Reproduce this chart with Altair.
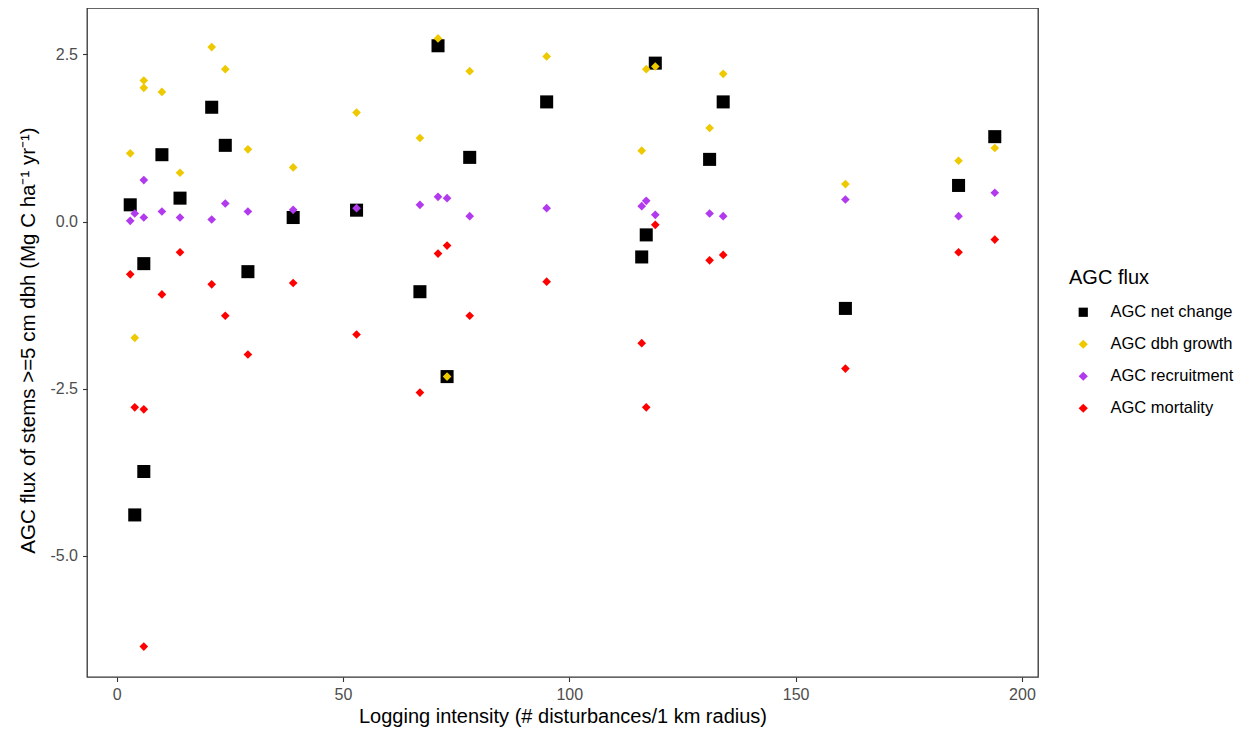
import altair as alt
import pandas as pd

# Logging intensity per site (# disturbances / 1 km radius)
logging = [3, 4, 6, 6, 10, 14, 21, 24, 29, 39, 53, 67, 71, 73, 78, 95,
           116, 117, 119, 131, 134, 161, 186, 194]

# AGC fluxes (Mg C ha-1 yr-1), one value per site
net_change = [0.25, -4.39, -0.63, -3.74, 1.00, 0.35, 1.71, 1.14, -0.75, 0.06, 0.17, -1.05,
              2.63, -2.32, 0.96, 1.79, -0.53, -0.20, 2.37, 0.93, 1.79, -1.30, 0.54, 1.27]
dbh_growth = [1.02, -1.74, 2.11, 2.00, 1.94, 0.73, 2.61, 2.28, 1.08, 0.81, 1.63, 1.25,
              2.74, -2.32, 2.25, 2.47, 1.06, 2.28, 2.32, 1.40, 2.21, 0.56, 0.91, 1.10]
recruitment = [0.01, 0.12, 0.06, 0.62, 0.15, 0.06, 0.03, 0.27, 0.15, 0.175, 0.20, 0.25,
               0.37, 0.35, 0.08, 0.20, 0.23, 0.31, 0.10, 0.12, 0.08, 0.33, 0.08, 0.43]
mortality = [-0.79, -2.78, -2.81, -6.36, -1.09, -0.46, -0.94, -1.41, -1.99, -0.92, -1.69, -2.56,
             -0.48, -0.36, -1.41, -0.90, -1.82, -2.78, -0.05, -0.58, -0.50, -2.20, -0.46, -0.27]

series_names = ["AGC net change", "AGC dbh growth", "AGC recruitment", "AGC mortality"]
series_colors = ["#000000", "#EEC900", "#B23AEE", "#FF0000"]
series_shapes = ["square", "diamond", "diamond", "diamond"]

rows = []
for name, vals in zip(series_names, [net_change, dbh_growth, recruitment, mortality]):
    for x, v in zip(logging, vals):
        rows.append({"logging": x, "flux": v, "series": name})
df = pd.DataFrame(rows)

x_enc = alt.X("logging:Q", scale=alt.Scale(domain=[-6.55, 203.55], nice=False, zero=False),
              axis=alt.Axis(values=[0, 50, 100, 150, 200], title="Logging intensity (# disturbances/1 km radius)",
                            titleX=475.5, titleY=39, titleBaseline="middle", titleAlign="center"))
y_enc = alt.Y("flux:Q", scale=alt.Scale(domain=[-6.815, 3.195], nice=False, zero=False),
              axis=alt.Axis(values=[2.5, 0, -2.5, -5.0],
                            labelExpr="datum.value < 0 ? '-' + format(abs(datum.value), '.1f') : format(datum.value, '.1f')",
                            title="AGC flux of stems >=5 cm dbh (Mg C ha⁻¹ yr⁻¹)",
                            titleX=-59, titleY=332, titleBaseline="middle", titleAlign="center", titleAngle=-90,
                            titleFontSize=20.5))
color_enc = alt.Color("series:N", scale=alt.Scale(domain=series_names, range=series_colors),
                      legend=alt.Legend(title="AGC flux", orient="none", legendX=982, legendY=260,
                                        symbolSize=85, titleFontSize=20, labelFontSize=16.5,
                                        titleFont="Liberation Sans", labelFont="Liberation Sans",
                                        titleFontWeight="normal", titleColor="#000000", labelColor="#000000",
                                        rowPadding=15, titlePadding=16, symbolOffset=6, labelOffset=19,
                                        padding=0))
shape_enc = alt.Shape("series:N", scale=alt.Scale(domain=series_names, range=series_shapes), legend=alt.Legend(title="AGC flux"))

net_layer = alt.Chart(df[df.series == "AGC net change"]).mark_point(
    filled=True, opacity=1, size=170, strokeWidth=0
).encode(x=x_enc, y=y_enc, color=color_enc, shape=shape_enc)

other_layer = alt.Chart(df[df.series != "AGC net change"]).mark_point(
    filled=True, opacity=1, size=75, strokeWidth=0
).encode(x=x_enc, y=y_enc, color=color_enc, shape=shape_enc)

chart = alt.layer(net_layer, other_layer).properties(
    width=951, height=669,
    autosize=alt.AutoSizeParams(type="none"),
    padding={"left": 79, "top": 0, "right": 204, "bottom": 50},
).configure_view(
    stroke="#333333", strokeWidth=1.3
).configure_axis(
    grid=False, domain=False, tickColor="#333333", tickSize=4.5, tickWidth=1.1,
    labelFont="Liberation Sans", labelFontSize=16, labelColor="#4D4D4D", labelPadding=5,
    titleFont="Liberation Sans", titleFontSize=20, titleFontWeight="normal", titleColor="#000000"
)

chart.save("out.html", embed_options={"renderer": "svg", "actions": False})
